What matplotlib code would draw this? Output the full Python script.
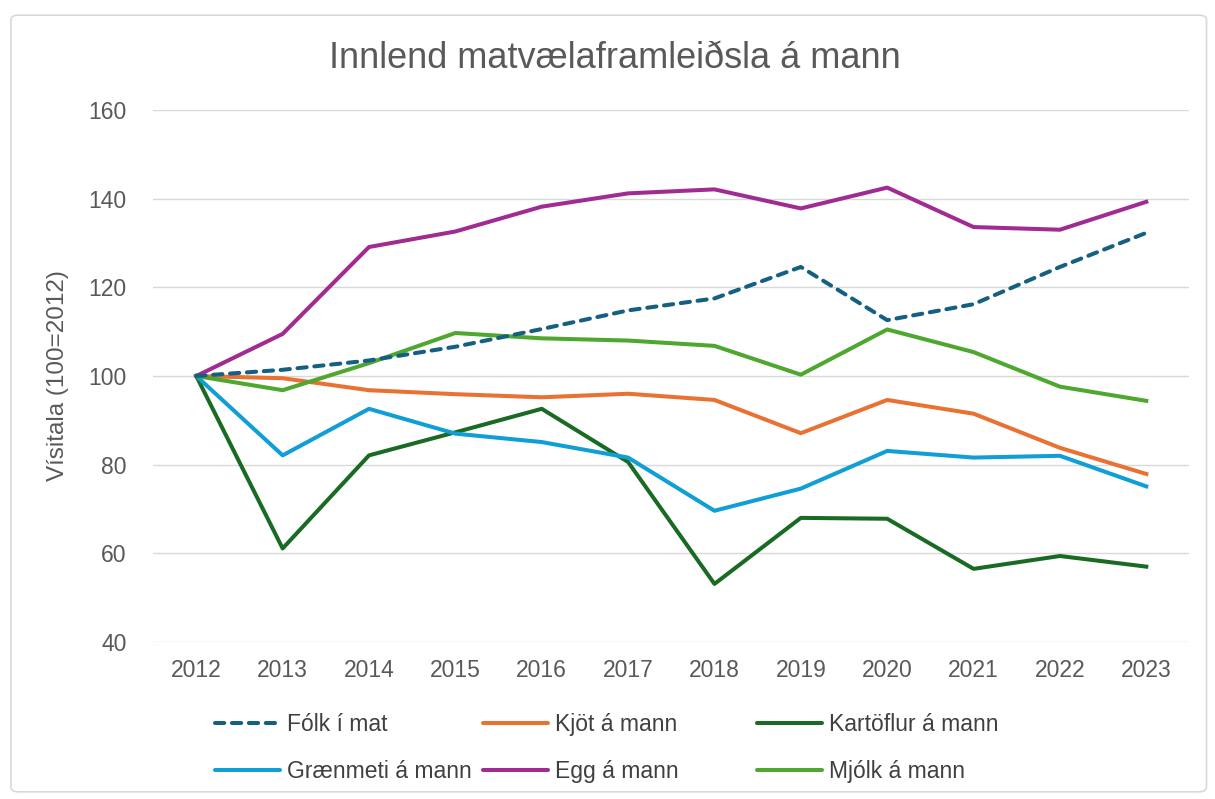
import matplotlib
matplotlib.use("Agg")
import matplotlib.pyplot as plt
from matplotlib import font_manager
from matplotlib.patches import FancyBboxPatch

# --- data ---
years = [2012, 2013, 2014, 2015, 2016, 2017, 2018, 2019, 2020, 2021, 2022, 2023]
folk = [100, 101.4, 103.5, 106.6, 110.6, 114.8, 117.5, 124.6, 112.6, 116.2, 124.6, 132.3]
kjot = [100, 99.5, 96.8, 95.9, 95.2, 96.0, 94.6, 87.1, 94.6, 91.5, 83.8, 77.9]
kartoflur = [100, 61.1, 82.1, 87.3, 92.6, 80.6, 53.1, 68.0, 67.8, 56.5, 59.4, 57.0]
graenmeti = [100, 82.1, 92.6, 87.0, 85.1, 81.6, 69.6, 74.6, 83.1, 81.6, 82.0, 75.1]
egg = [100, 109.5, 129.1, 132.6, 138.2, 141.2, 142.1, 137.8, 142.5, 133.6, 133.0, 139.3]
mjolk = [100, 96.8, 102.9, 109.7, 108.5, 108.0, 106.8, 100.3, 110.5, 105.4, 97.6, 94.4]

yticks = [40, 60, 80, 100, 120, 140, 160]

# pick a narrow font if there is one
names = {f.name for f in font_manager.fontManager.ttflist}
narrow = "Liberation Sans Narrow" if "Liberation Sans Narrow" in names else "Liberation Sans"
plain = "Liberation Sans"

fig = plt.figure(figsize=(12.15, 7.99), dpi=100)
ax = fig.add_axes([0.126, 0.1965, 0.853, 0.6658])

# outer frame
fig.patches.append(FancyBboxPatch((0.009, 0.009), 0.984, 0.972, boxstyle="round,pad=0,rounding_size=0.006",
                                  transform=fig.transFigure, facecolor="white", edgecolor="#D9D9D9",
                                  linewidth=1.2, zorder=-10))

lw = 2.9
l_folk, = ax.plot(years, folk, color="#156082", lw=lw, dashes=(2.3, 1.9), dash_capstyle="round",
                  label="Fólk í mat", zorder=5)
l_kjot, = ax.plot(years, kjot, color="#E97132", lw=lw, label="Kjöt á mann")
l_kart, = ax.plot(years, kartoflur, color="#196B24", lw=lw, label="Kartöflur á mann")
l_grae, = ax.plot(years, graenmeti, color="#0F9ED5", lw=lw, label="Grænmeti á mann")
l_egg, = ax.plot(years, egg, color="#A02B93", lw=lw, label="Egg á mann")
l_mjol, = ax.plot(years, mjolk, color="#4EA72E", lw=lw, label="Mjólk á mann")

ax.set_xlim(2011.5, 2023.5)
ax.set_ylim(40, 160)
ax.set_xticks(years)
ax.set_yticks(yticks)
ax.grid(axis="y", color="#D9D9D9", lw=1.0)
ax.set_axisbelow(True)
for s in ax.spines.values():
    s.set_visible(False)
ax.tick_params(axis="both", length=0, labelsize=16.5, labelcolor="#595959")
ax.tick_params(axis="y", pad=19)
ax.tick_params(axis="x", pad=12)
for lab in ax.get_xticklabels() + ax.get_yticklabels():
    lab.set_fontfamily(plain)
ax.set_ylabel("Vísitala (100=2012)", fontsize=17.5, color="#595959", family=plain, labelpad=14)

fig.text(0.506, 0.915, "Innlend matvælaframleiðsla á mann", ha="center", va="baseline",
         fontsize=26, color="#595959", family=narrow)

# legend: three columns, placed one by one
cols = [([l_folk, l_grae], 0.177), ([l_kjot, l_egg], 0.3975), ([l_kart, l_mjol], 0.623)]
for hs, x in cols:
    leg = fig.legend(handles=hs, loc="upper left", bbox_to_anchor=(x, 0.1076), frameon=False,
                     borderaxespad=0, borderpad=0,
                     handlelength=2.85, handletextpad=0.28, labelspacing=1.03,
                     prop={"family": narrow, "size": 16.5}, labelcolor="#404040")
    for h in leg.legend_handles:
        h.set_solid_capstyle("round")

fig.savefig("out.png", dpi=100)
